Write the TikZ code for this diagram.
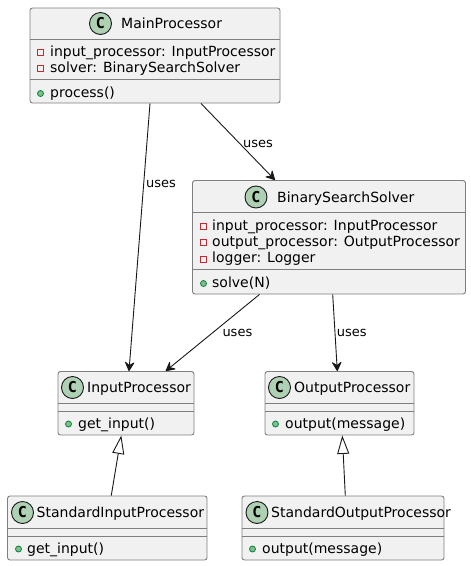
\documentclass[tikz,border=0pt]{standalone}
\usepackage{fontspec}
\setmainfont{DejaVu Sans}
\newfontfamily\badgefont{DejaVu Sans Mono}
\usetikzlibrary{arrows.meta}
\definecolor{boxfill}{HTML}{F1F1F1}
\definecolor{boxline}{HTML}{7F7F7F}
\definecolor{spot}{HTML}{ADD1B2}
\definecolor{privred}{HTML}{C82930}
\definecolor{pubfill}{HTML}{84BE84}
\definecolor{publine}{HTML}{038048}
\definecolor{ink}{HTML}{181818}
\tikzset{
  x=1pt,y=-1pt,
  classbox/.style={draw=boxline,fill=boxfill,line width=0.9pt,rounded corners=2.5pt,inner sep=0pt},
  sepline/.style={draw=boxline,line width=0.9pt},
  badge/.style={circle,draw=ink,fill=spot,line width=0.9pt,minimum size=22pt,inner sep=0pt,font=\badgefont\fontsize{15}{15}\bfseries\selectfont,text=black},
  txt/.style={font=\fontsize{14}{16}\selectfont,text=black,inner sep=0pt,anchor=base west},
  lbl/.style={font=\fontsize{13}{15}\selectfont,text=black,inner sep=0pt,anchor=base west},
  priv/.style={rectangle,draw=privred,line width=0.8pt,minimum size=6pt,inner sep=0pt},
  pub/.style={circle,draw=publine,fill=pubfill,line width=0.8pt,minimum size=6pt,inner sep=0pt},
  uses/.style={draw=ink,line width=0.9pt,-{Stealth[length=10.5pt,width=11pt,inset=4pt,round]}},
  isa/.style={draw=ink,line width=0.9pt,-{Triangle[open,length=18.5pt,width=12pt,fill=white,line width=0.9pt]}},
}
\newcommand{\cbox}[5]{% name, x1, y1, x2, y2
  \node[classbox,minimum width=#4pt-#2pt,minimum height=#5pt-#3pt] (#1) at ({(#2+#4)/2},{(#3+#5)/2}) {};}
\begin{document}
\begin{tikzpicture}
\useasboundingbox (0,0) rectangle (471,566);
% boxes
\cbox{main}{30}{8}{280}{103}
\cbox{solver}{192.5}{180.5}{465.5}{294}
\cbox{inp}{58}{371.5}{194}{435}
\cbox{outp}{265}{371.5}{414}{435}
\cbox{sinp}{7.5}{496}{207}{560}
\cbox{soutp}{242}{496}{444}{560}
% separators
\draw[sepline] (30,39)--(280,39) (30,79)--(280,79);
\draw[sepline] (192.5,212.5)--(465.5,212.5) (192.5,269.5)--(465.5,269.5);
\draw[sepline] (58,403)--(194,403) (58,411.5)--(194,411.5);
\draw[sepline] (265,403)--(414,403) (265,411.5)--(414,411.5);
\draw[sepline] (7.5,528)--(207,528) (7.5,536.5)--(207,536.5);
\draw[sepline] (242,528)--(444,528) (242,536.5)--(444,536.5);
% badges and titles
\node[badge] (bmain) at (100.5,23.5) {C};
\node[txt] (tmain) at (121,28) {MainProcessor};
\node[badge] (bsolver) at (256,197) {C};
\node[txt] (tsolver) at (277,202) {BinarySearchSolver};
\node[badge] (binp) at (72.5,387.5) {C};
\node[txt] (tinp) at (87,392) {InputProcessor};
\node[badge] (boutp) at (279.5,387.5) {C};
\node[txt] (toutp) at (294,392) {OutputProcessor};
\node[badge] (bsinp) at (22.5,512.5) {C};
\node[txt] (tsinp) at (36.5,517) {StandardInputProcessor};
\node[badge] (bsoutp) at (257,512.5) {C};
\node[txt] (tsoutp) at (271,517) {StandardOutputProcessor};
% members
\node[priv] (m1) at (40.5,52.5) {}; \node[txt] (mt1) at (50,56.5) {input\_processor: InputProcessor};
\node[priv] (m2) at (40.5,68.5) {}; \node[txt] (mt2) at (50,72.5) {solver: BinarySearchSolver};
\node[pub] (m3) at (40.5,93.5) {}; \node[txt] (mt3) at (50,97.5) {process()};
\node[priv] (s1) at (203.5,226) {}; \node[txt] (st1) at (212,230) {input\_processor: InputProcessor};
\node[priv] (s2) at (203.5,242) {}; \node[txt] (st2) at (212,246) {output\_processor: OutputProcessor};
\node[priv] (s3) at (203.5,259) {}; \node[txt] (st3) at (212,262.5) {logger: Logger};
\node[pub] (s4) at (203.5,283.5) {}; \node[txt] (st4) at (212,287.5) {solve(N)};
\node[pub] (i1) at (68.5,424) {}; \node[txt] (it1) at (78,428) {get\_input()};
\node[pub] (o1) at (275.5,424) {}; \node[txt] (ot1) at (285,428) {output(message)};
\node[pub] (si1) at (18.5,549) {}; \node[txt] (sit1) at (27,553) {get\_input()};
\node[pub] (so1) at (252.5,549) {}; \node[txt] (sot1) at (262,553) {output(message)};
% connectors
\draw[uses] ([xshift=-5pt]main.south) -- ([xshift=3pt]inp.north);
\draw[uses] ([xshift=46pt]main.south) -- ([xshift=-54pt]solver.north);
\draw[uses] ([xshift=-69.5pt]solver.south) -- ([xshift=39.7pt]inp.north);
\draw[uses] ([xshift=3.7pt]solver.south) -- ([xshift=-2.2pt]outp.north);
\draw[isa] ([xshift=4pt]sinp.north) -- ([xshift=-4.7pt]inp.south);
\draw[isa] ([xshift=2.3pt]soutp.north) -- ([xshift=2.8pt]outp.south);
% labels
\node[lbl] (l1) at (146,187) {uses};
\node[lbl] (l2) at (243,147) {uses};
\node[lbl] (l3) at (222.3,336.5) {uses};
\node[lbl] (l4) at (336.7,336.5) {uses};
\end{tikzpicture}
\end{document}
